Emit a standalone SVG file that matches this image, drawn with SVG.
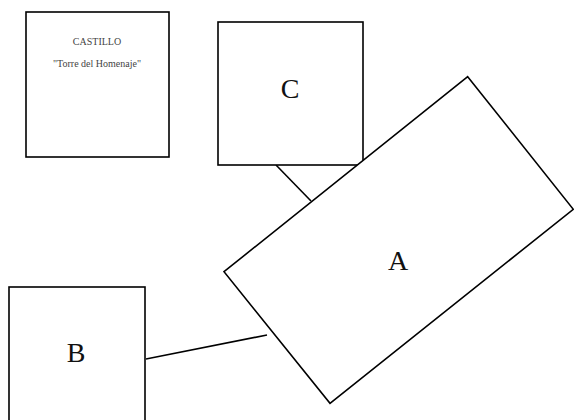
<svg xmlns="http://www.w3.org/2000/svg" width="574" height="420" viewBox="0 0 574 420">
<style>
.box{fill:#fff;stroke:#000;stroke-width:1.6}
.lbl{font-family:"Liberation Serif",serif;font-size:28px;fill:#111;text-anchor:middle}
.small{font-family:"Liberation Serif",serif;font-size:10px;fill:#444;text-anchor:middle}
.conn{stroke:#000;stroke-width:1.6;fill:none}
</style>
<rect width="574" height="420" fill="#fff"/>
<g id="connectors">
<line class="conn" x1="276" y1="165" x2="311" y2="201"/>
<line class="conn" x1="146" y1="359" x2="267" y2="335"/>
</g>
<g id="castillo">
<rect class="box" x="26" y="12" width="143" height="145"/>
<text class="small" x="97" y="45">CASTILLO</text>
<text class="small" x="97" y="67">"Torre del Homenaje"</text>
</g>
<g id="C">
<rect class="box" x="218" y="22" width="145" height="143"/>
<text class="lbl" x="290" y="98">C</text>
</g>
<g id="A">
<polygon class="box" points="467.7,76.7 573.3,209.3 330,403.3 224,271.7"/>
<text class="lbl" x="398" y="270">A</text>
</g>
<g id="B">
<rect class="box" x="9" y="287" width="136" height="140"/>
<text class="lbl" x="76" y="362">B</text>
</g>
</svg>
